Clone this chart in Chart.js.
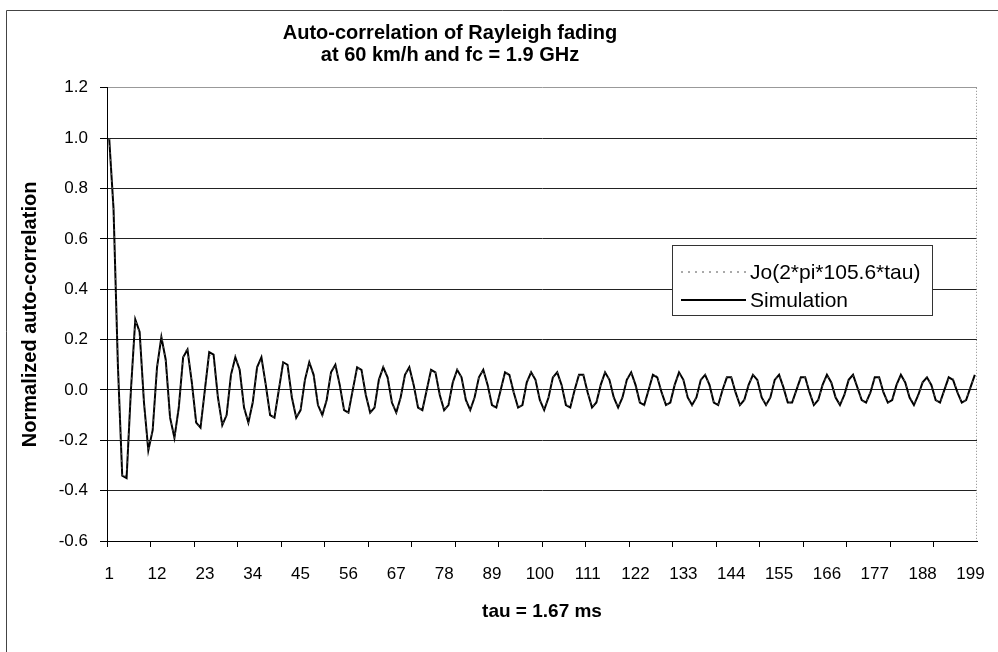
<!DOCTYPE html>
<html>
<head>
<meta charset="utf-8">
<script src="https://cdn.jsdelivr.net/npm/chart.js@4.4.1/dist/chart.umd.min.js"></script>
<style>
  html, body { margin: 0; padding: 0; background: #fff; }
  #wrap { width: 998px; height: 652px; }
</style>
</head>
<body>
<div id="wrap"><canvas id="chart"></canvas></div>
<script>
const titleLines = ['Auto-correlation of Rayleigh fading', 'at 60 km/h and fc = 1.9 GHz'];
const seriesNames = ['Jo(2*pi*105.6*tau)', 'Simulation'];

// 200 lags, numbered from 1
const categories = Array.from({length: 200}, (_, i) => String(i + 1));
const xTickLabels = ['1', '12', '23', '34', '45', '56', '67', '78', '89', '100',
  '111', '122', '133', '144', '155', '166', '177', '188', '199'];

// values
const besselValues = [
  1.000, 0.717, 0.102, -0.350, -0.336, 0.007, 0.280, 0.224, -0.056, -0.245,
  -0.157, 0.088, 0.218, 0.106, -0.111, -0.194, -0.064, 0.127, 0.171, 0.028,
  -0.138, -0.146, 0.004, 0.143, 0.121, -0.031, -0.144, -0.096, 0.055, 0.140,
  0.071, -0.074, -0.133, -0.046, 0.089, 0.123, 0.021, -0.101, -0.109, 0.002,
  0.108, 0.094, -0.023, -0.112, -0.076, 0.042, 0.111, 0.057, -0.058, -0.108,
  -0.038, 0.072, 0.101, 0.019, -0.083, -0.091, 0.000, 0.090, 0.079, -0.018,
  -0.094, -0.065, 0.035, 0.095, 0.050, -0.049, -0.093, -0.034, 0.062, 0.088,
  0.017, -0.071, -0.080, -0.001, 0.079, 0.070, -0.015, -0.083, -0.059, 0.030,
  0.084, 0.045, -0.043, -0.083, -0.031, 0.054, 0.079, 0.017, -0.064, -0.073,
  -0.002, 0.070, 0.064, -0.013, -0.075, -0.054, 0.026, 0.076, 0.042, -0.038,
  -0.076, -0.029, 0.049, 0.072, 0.016, -0.058, -0.067, -0.003, 0.064, 0.060,
  -0.011, -0.068, -0.050, 0.023, 0.070, 0.040, -0.035, -0.070, -0.028, 0.045,
  0.067, 0.016, -0.053, -0.063, -0.003, 0.059, 0.056, -0.009, -0.063, -0.047,
  0.021, 0.066, 0.038, -0.032, -0.065, -0.027, 0.041, 0.063, 0.016, -0.049,
  -0.059, -0.004, 0.055, 0.053, -0.008, -0.059, -0.045, 0.019, 0.062, 0.036,
  -0.029, -0.062, -0.026, 0.038, 0.060, 0.015, -0.046, -0.056, -0.004, 0.052,
  0.050, -0.007, -0.056, -0.043, 0.017, 0.058, 0.035, -0.027, -0.059, -0.025,
  0.036, 0.057, 0.015, -0.043, -0.053, -0.005, 0.049, 0.048, -0.006, -0.053,
  -0.042, 0.016, 0.055, 0.034, -0.025, -0.056, -0.025, 0.033, 0.054, 0.015,
  -0.040, -0.051, -0.005, 0.046, 0.047, -0.005, -0.050, -0.040, 0.014, 0.053
];

// values
const simulationValues = [
  1.00, 0.72, 0.10, -0.34, -0.35, 0.00, 0.28, 0.23, -0.05, -0.24,
  -0.16, 0.09, 0.21, 0.12, -0.11, -0.19, -0.07, 0.13, 0.16, 0.03,
  -0.13, -0.15, 0.00, 0.15, 0.14, -0.03, -0.14, -0.10, 0.06, 0.13,
  0.08, -0.07, -0.13, -0.05, 0.09, 0.13, 0.02, -0.10, -0.11, 0.00,
  0.11, 0.10, -0.03, -0.11, -0.08, 0.04, 0.11, 0.06, -0.06, -0.10,
  -0.04, 0.07, 0.10, 0.02, -0.08, -0.09, 0.00, 0.09, 0.08, -0.02,
  -0.09, -0.07, 0.04, 0.09, 0.05, -0.05, -0.09, -0.03, 0.06, 0.09,
  0.02, -0.07, -0.08, 0.00, 0.08, 0.07, -0.02, -0.08, -0.06, 0.03,
  0.08, 0.05, -0.04, -0.08, -0.03, 0.05, 0.08, 0.02, -0.06, -0.07,
  0.00, 0.07, 0.06, -0.01, -0.07, -0.06, 0.03, 0.07, 0.04, -0.04,
  -0.08, -0.03, 0.05, 0.07, 0.02, -0.06, -0.07, 0.00, 0.06, 0.06,
  -0.01, -0.07, -0.05, 0.02, 0.07, 0.04, -0.03, -0.07, -0.03, 0.04,
  0.07, 0.02, -0.05, -0.06, 0.00, 0.06, 0.05, -0.01, -0.06, -0.05,
  0.02, 0.07, 0.04, -0.03, -0.06, -0.03, 0.04, 0.06, 0.02, -0.05,
  -0.06, 0.00, 0.05, 0.05, -0.01, -0.06, -0.04, 0.02, 0.06, 0.04,
  -0.03, -0.06, -0.03, 0.04, 0.06, 0.01, -0.05, -0.05, 0.00, 0.05,
  0.05, -0.01, -0.06, -0.04, 0.02, 0.06, 0.03, -0.03, -0.06, -0.02,
  0.04, 0.06, 0.01, -0.04, -0.05, -0.01, 0.05, 0.05, -0.01, -0.05,
  -0.04, 0.02, 0.06, 0.03, -0.03, -0.06, -0.02, 0.03, 0.05, 0.02,
  -0.04, -0.05, 0.00, 0.05, 0.04, -0.01, -0.05, -0.04, 0.01, 0.06
];

Chart.defaults.font.family = 'Arial, "Liberation Sans", sans-serif';
Chart.defaults.color = '#000';

// white page with the thin outer frame of the chart object
const framePlugin = {
  id: 'frame',
  afterLayout(chart) {
    // the title sits left of the page centre in the original
    const t = chart.titleBlock;
    if (t) { t.left = 50; t.right = 850; }
  },
  beforeDraw(chart) {
    const c = chart.ctx;
    c.save();
    c.fillStyle = '#fff';
    c.fillRect(0, 0, chart.width, chart.height);
    c.strokeStyle = '#444';
    c.lineWidth = 1;
    c.beginPath();
    c.moveTo(6.5, chart.height);
    c.lineTo(6.5, 10.5);
    c.lineTo(chart.width, 10.5);
    c.stroke();
    c.restore();
  },
  afterDraw(chart) {
    // grey dotted right edge of the plot area
    const a = chart.chartArea;
    const c = chart.ctx;
    c.save();
    c.strokeStyle = '#888';
    c.setLineDash([1, 2]);
    c.beginPath();
    c.moveTo(a.right - 0.5, a.top);
    c.lineTo(a.right - 0.5, a.bottom);
    c.stroke();
    c.restore();
  }
};

// boxed legend sitting inside the plot
const boxLegend = {
  id: 'boxLegend',
  afterDatasetsDraw(chart) {
    const c = chart.ctx;
    const box = {x: 672.5, y: 245.5, w: 260, h: 70};
    c.save();
    c.fillStyle = '#fff';
    c.fillRect(box.x, box.y, box.w, box.h);
    c.strokeStyle = '#333';
    c.lineWidth = 1;
    c.strokeRect(box.x, box.y, box.w, box.h);
    chart.data.datasets.forEach((ds, i) => {
      const y = 272 + i * 28;
      c.strokeStyle = ds.borderColor;
      c.lineWidth = ds.borderWidth;
      c.setLineDash(ds.borderDash || []);
      c.beginPath();
      c.moveTo(681, y);
      c.lineTo(746, y);
      c.stroke();
      c.setLineDash([]);
      c.fillStyle = '#000';
      c.font = '21px Arial, "Liberation Sans", sans-serif';
      c.textBaseline = 'middle';
      c.fillText(ds.label, 750, y + 1);
    });
    c.restore();
  }
};

new Chart(document.getElementById('chart'), {
  type: 'line',
  data: {
    labels: categories,
    datasets: [{
      label: seriesNames[0],
      data: besselValues,
      borderColor: '#555',
      borderWidth: 1,
      borderDash: [2, 5],
      pointRadius: 0,
      tension: 0,
      fill: false
    }, {
      label: seriesNames[1],
      data: simulationValues,
      borderColor: '#000',
      borderWidth: 2,
      pointRadius: 0,
      tension: 0,
      fill: false
    }]
  },
  options: {
    responsive: true,
    maintainAspectRatio: false,
    animation: false,
    events: [],
    layout: { padding: { left: 0, right: 21, top: 0, bottom: 29 } },
    plugins: {
      legend: { display: false },
      tooltip: { enabled: false },
      title: {
        display: true,
        text: titleLines,
        color: '#000',
        font: { size: 20, weight: 'bold', lineHeight: 1.12 },
        padding: { top: 22, bottom: 21 }
      }
    },
    scales: {
      x: {
        offset: true,
        grid: {
          offset: true,
          drawOnChartArea: false,
          tickLength: 6,
          tickColor: ctx => (ctx.index % 10 === 0 ? '#000' : 'rgba(0,0,0,0)')
        },
        border: { display: true, color: '#000', width: 1 },
        ticks: {
          autoSkip: false,
          maxRotation: 0,
          minRotation: 0,
          padding: 17,
          font: { size: 17 },
          callback: (v, i) => (xTickLabels.includes(categories[i]) ? categories[i] : '')
        },
        title: {
          display: true,
          text: 'tau = 1.67 ms',
          font: { size: 19, weight: 'bold' },
          padding: { top: 0, bottom: 0 }
        },
        afterFit: s => { s.height = 82; }
      },
      y: {
        min: -0.6,
        max: 1.2,
        grid: {
          color: ctx => (ctx.tick && Math.abs(ctx.tick.value - 1.2) < 1e-6 ? '#999' : '#222'),
          lineWidth: 1,
          tickLength: 7,
          tickColor: '#000'
        },
        border: { display: true, color: '#000', width: 1 },
        ticks: {
          stepSize: 0.2,
          padding: 12,
          font: { size: 17 },
          callback: v => (Math.abs(v) < 1e-9 ? '0.0' : v.toFixed(1))
        },
        title: {
          display: true,
          text: 'Normalized auto-correlation',
          font: { size: 20, weight: 'bold' },
          padding: { top: 18, bottom: 0 }
        },
        afterFit: s => { s.width = 107; }
      }
    }
  },
  plugins: [framePlugin, boxLegend]
});
</script>
</body>
</html>
